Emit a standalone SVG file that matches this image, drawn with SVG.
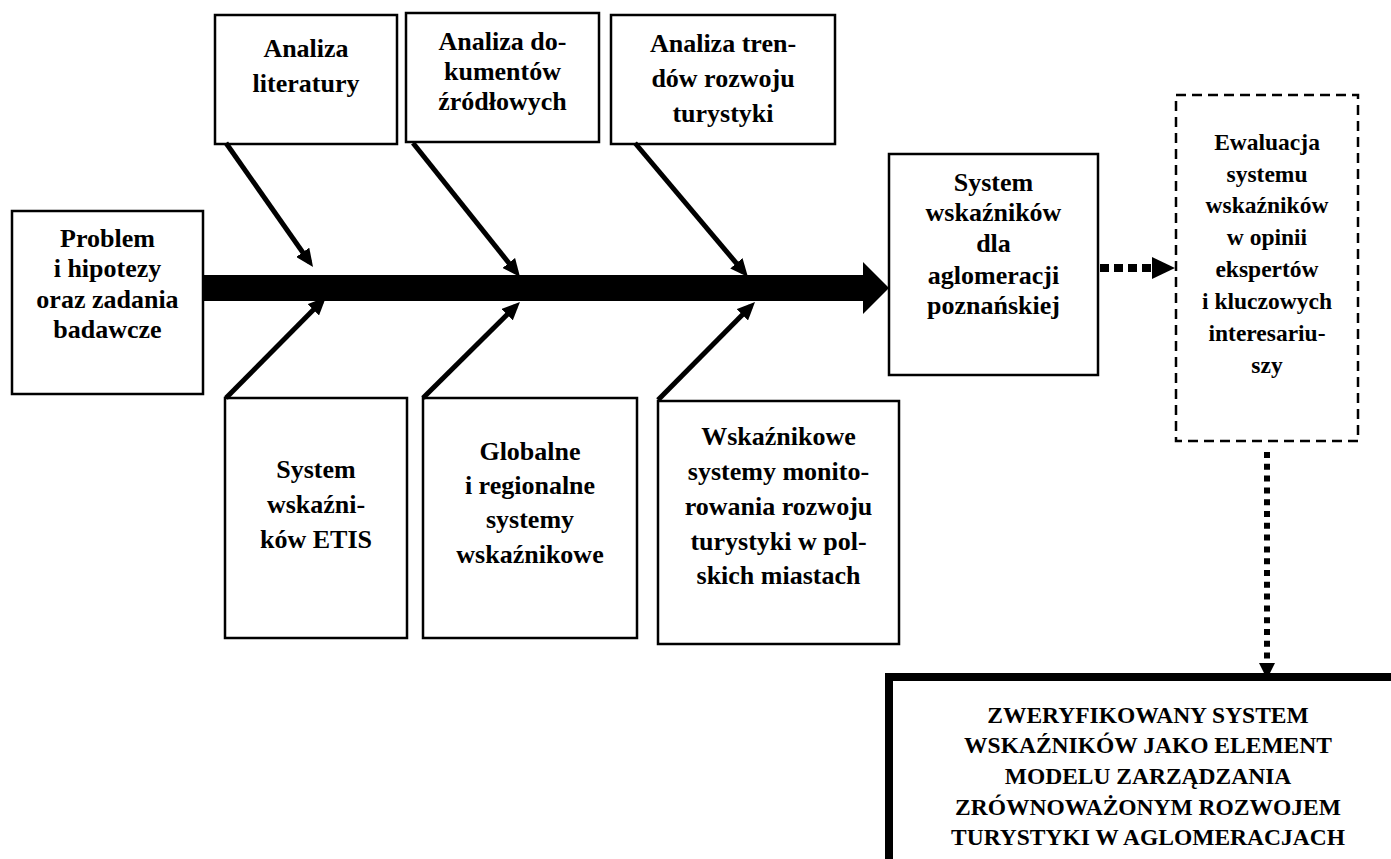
<svg xmlns="http://www.w3.org/2000/svg" width="1391" height="859" viewBox="0 0 1391 859">
  <style>
    .box { fill: #fff; stroke: #000; stroke-width: 2.5; }
    .dash { fill: #fff; stroke: #000; stroke-width: 2.5; stroke-dasharray: 10 6; }
    .heavy { fill: #fff; stroke: #000; stroke-width: 8; }
    text { font-family: 'Liberation Serif', 'DejaVu Serif', serif; font-weight: 700; font-size: 26px; fill: #000; text-anchor: middle; }
    .s { font-size: 23.5px; }
    .bone { stroke: #000; stroke-width: 5; fill: none; marker-end: url(#head); }
  </style>
  <defs>
    <marker id="head" markerUnits="userSpaceOnUse" markerWidth="18" markerHeight="16" refX="12" refY="8" orient="auto">
      <path d="M0,0 L18,8 L0,16 z" fill="#000"/>
    </marker>
  </defs>

  <rect width="1391" height="859" fill="#fff"/>

  <!-- start: problem -->
  <g id="problem">
    <rect class="box" x="12" y="211" width="191" height="183"/>
    <text x="107.5" y="247">Problem</text>
    <text x="107.5" y="277">i hipotezy</text>
    <text x="107.5" y="308">oraz zadania</text>
    <text x="107.5" y="338">badawcze</text>
  </g>

  <!-- upper bones -->
  <g id="analiza-literatury">
    <rect class="box" x="215" y="15" width="182" height="129"/>
    <text x="306" y="57">Analiza</text>
    <text x="306" y="92">literatury</text>
  </g>
  <g id="analiza-dokumentow">
    <rect class="box" x="406" y="13" width="193" height="129"/>
    <text x="502.5" y="50">Analiza do-</text>
    <text x="502.5" y="80">kumentów</text>
    <text x="502.5" y="110">źródłowych</text>
  </g>
  <g id="analiza-trendow">
    <rect class="box" x="611" y="15" width="224" height="129"/>
    <text x="723" y="52">Analiza tren-</text>
    <text x="723" y="87">dów rozwoju</text>
    <text x="723" y="122">turystyki</text>
  </g>

  <!-- lower bones -->
  <g id="etis">
    <rect class="box" x="225" y="398" width="182" height="240"/>
    <text x="316" y="478">System</text>
    <text x="316" y="513">wskaźni-</text>
    <text x="316" y="548">ków ETIS</text>
  </g>
  <g id="globalne">
    <rect class="box" x="423" y="398" width="214" height="240"/>
    <text x="530" y="460">Globalne</text>
    <text x="530" y="494">i regionalne</text>
    <text x="530" y="528">systemy</text>
    <text x="530" y="563">wskaźnikowe</text>
  </g>
  <g id="polskie-miasta">
    <rect class="box" x="658" y="401" width="241" height="243"/>
    <text x="778.5" y="445">Wskaźnikowe</text>
    <text x="778.5" y="480">systemy monito-</text>
    <text x="778.5" y="515">rowania rozwoju</text>
    <text x="778.5" y="550">turystyki w pol-</text>
    <text x="778.5" y="584">skich miastach</text>
  </g>

  <!-- head of the fish -->
  <g id="system-aglomeracji">
    <rect class="box" x="889" y="154" width="209" height="221"/>
    <text x="993.5" y="191">System</text>
    <text x="993.5" y="221">wskaźników</text>
    <text x="993.5" y="252">dla</text>
    <text x="993.5" y="284">aglomeracji</text>
    <text x="993.5" y="314">poznańskiej</text>
  </g>

  <g id="ewaluacja">
    <rect class="dash" x="1176" y="95" width="182" height="346"/>
    <text class="s" x="1267" y="150">Ewaluacja</text>
    <text class="s" x="1267" y="182">systemu</text>
    <text class="s" x="1267" y="213">wskaźników</text>
    <text class="s" x="1267" y="245">w opinii</text>
    <text class="s" x="1267" y="277">ekspertów</text>
    <text class="s" x="1267" y="309">i kluczowych</text>
    <text class="s" x="1267" y="341">interesariu-</text>
    <text class="s" x="1267" y="373">szy</text>
  </g>

  <g id="wynik">
    <rect class="heavy" x="889" y="677" width="530" height="220"/>
    <text class="s" x="1148" y="723">ZWERYFIKOWANY SYSTEM</text>
    <text class="s" x="1148" y="753">WSKAŹNIKÓW JAKO ELEMENT</text>
    <text class="s" x="1148" y="784">MODELU ZARZĄDZANIA</text>
    <text class="s" x="1148" y="815">ZRÓWNOWAŻONYM ROZWOJEM</text>
    <text class="s" x="1148" y="845">TURYSTYKI W AGLOMERACJACH</text>
  </g>

  <!-- connectors -->
  <g id="connectors">
    <!-- spine -->
    <rect x="203" y="275" width="661" height="26" fill="#000"/>
    <polygon points="863,262 889,288 863,314" fill="#000"/>

    <!-- upper bones -->
    <line class="bone" x1="226" y1="143" x2="309.6" y2="262.1"/>
    <line class="bone" x1="413" y1="143" x2="516.3" y2="272.3"/>
    <line class="bone" x1="635" y1="143" x2="744.1" y2="272.4"/>

    <!-- lower bones -->
    <line class="bone" x1="226" y1="398" x2="321.8" y2="301.3"/>
    <line class="bone" x1="423" y1="398" x2="515.7" y2="306.2"/>
    <line class="bone" x1="658" y1="400" x2="750.8" y2="306.3"/>

    <!-- dotted links -->
    <line x1="1100" y1="268" x2="1152" y2="268" stroke="#000" stroke-width="8" stroke-dasharray="9 5"/>
    <polygon points="1152,257 1175,268 1152,279" fill="#000"/>
    <line x1="1267" y1="452" x2="1267" y2="664" stroke="#000" stroke-width="6" stroke-dasharray="6 5.8"/>
    <polygon points="1259,663 1275,663 1267,679" fill="#000"/>
  </g>
</svg>
